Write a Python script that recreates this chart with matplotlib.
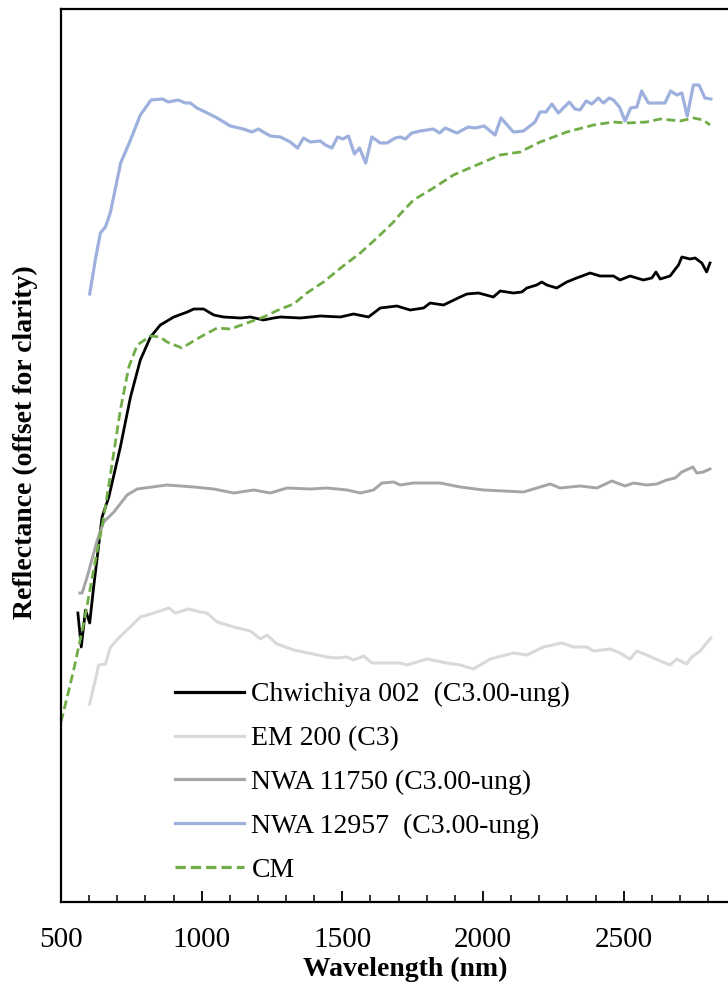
import matplotlib
matplotlib.use("Agg")
import matplotlib.pyplot as plt
from matplotlib.ticker import MultipleLocator, NullLocator

plt.rcParams['font.family'] = ['Liberation Serif', 'DejaVu Serif']

# ---------------- data (wavelength nm, reflectance offset for clarity) -------
chw_wl = [560, 572, 587, 602, 616, 646, 670, 711, 747, 782, 818, 853, 901, 949, 972,
          1007, 1043, 1078, 1138, 1173, 1220, 1256, 1280, 1351, 1422, 1493, 1540, 1593,
          1635, 1694, 1741, 1789, 1812, 1860, 1919, 1943, 1984, 2037, 2061, 2108, 2138,
          2156, 2191, 2209, 2227, 2262, 2298, 2333, 2381, 2416, 2464, 2487, 2523, 2570,
          2600, 2615, 2630, 2665, 2695, 2707, 2736, 2754, 2778, 2795, 2807]
chw_r = [2.89, 2.55, 2.92, 2.79, 3.15, 3.85, 4.05, 4.55, 5.05, 5.42, 5.65, 5.77, 5.85,
         5.90, 5.93, 5.93, 5.87, 5.85, 5.84, 5.85, 5.82, 5.84, 5.85, 5.84, 5.86, 5.85,
         5.88, 5.85, 5.94, 5.96, 5.92, 5.94, 5.99, 5.97, 6.05, 6.08, 6.09, 6.05, 6.11,
         6.09, 6.10, 6.14, 6.17, 6.20, 6.17, 6.14, 6.20, 6.24, 6.29, 6.26, 6.26, 6.22,
         6.26, 6.22, 6.24, 6.30, 6.23, 6.26, 6.37, 6.45, 6.43, 6.44, 6.39, 6.30, 6.39]

em_wl = [602, 616, 634, 658, 676, 705, 735, 782, 830, 883, 907, 954, 996, 1019, 1055,
         1114, 1173, 1209, 1232, 1268, 1327, 1362, 1446, 1481, 1517, 1540, 1576, 1605,
         1682, 1706, 1730, 1801, 1872, 1919, 1966, 2026, 2108, 2156, 2215, 2280, 2322,
         2369, 2393, 2452, 2487, 2523, 2547, 2582, 2630, 2665, 2689, 2724, 2742, 2772, 2810]
em_r = [1.98, 2.15, 2.37, 2.38, 2.55, 2.64, 2.72, 2.85, 2.89, 2.94, 2.89, 2.93, 2.90,
        2.89, 2.80, 2.75, 2.71, 2.63, 2.67, 2.58, 2.52, 2.50, 2.45, 2.44, 2.45, 2.42,
        2.46, 2.39, 2.39, 2.39, 2.37, 2.43, 2.39, 2.37, 2.33, 2.43, 2.49, 2.47, 2.55,
        2.59, 2.55, 2.55, 2.51, 2.53, 2.49, 2.43, 2.51, 2.47, 2.41, 2.37, 2.43, 2.38,
        2.45, 2.51, 2.64]

nwa117_wl = [567, 575, 593, 629, 652, 688, 735, 771, 877, 972, 1043, 1114, 1185, 1244,
             1304, 1386, 1446, 1517, 1564, 1611, 1641, 1682, 1706, 1753, 1848, 1919, 2002,
             2073, 2144, 2203, 2239, 2274, 2345, 2405, 2458, 2505, 2535, 2582, 2618, 2653,
             2683, 2707, 2746, 2760, 2783, 2807]
nwa117_r = [3.09, 3.09, 3.25, 3.62, 3.80, 3.90, 4.07, 4.13, 4.17, 4.15, 4.13, 4.09, 4.12,
            4.09, 4.14, 4.13, 4.14, 4.12, 4.09, 4.12, 4.19, 4.20, 4.17, 4.19, 4.19, 4.15,
            4.12, 4.11, 4.10, 4.15, 4.18, 4.14, 4.16, 4.14, 4.21, 4.16, 4.19, 4.17, 4.18,
            4.22, 4.24, 4.30, 4.35, 4.29, 4.30, 4.33]

nwa129_wl = [602, 622, 640, 658, 676, 712, 747, 782, 820, 860, 882, 917, 942, 960, 983,
             1013, 1055, 1102, 1148, 1179, 1202, 1219, 1244, 1280, 1315, 1341, 1362, 1386,
             1422, 1440, 1463, 1483, 1502, 1522, 1543, 1561, 1583, 1605, 1635, 1659, 1688,
             1706, 1724, 1747, 1777, 1824, 1846, 1866, 1907, 1948, 1972, 2004, 2043, 2064,
             2108, 2144, 2185, 2203, 2224, 2245, 2268, 2307, 2327, 2345, 2367, 2387, 2410,
             2428, 2449, 2464, 2485, 2505, 2525, 2547, 2564, 2588, 2647, 2667, 2689, 2707,
             2726, 2748, 2768, 2789, 2810]
nwa129_r = [6.08, 6.42, 6.69, 6.75, 6.90, 7.39, 7.62, 7.87, 8.02, 8.03, 8.00, 8.02, 7.99,
            7.99, 7.94, 7.90, 7.84, 7.76, 7.73, 7.70, 7.73, 7.70, 7.66, 7.65, 7.60, 7.54,
            7.64, 7.60, 7.61, 7.57, 7.54, 7.65, 7.63, 7.66, 7.48, 7.54, 7.39, 7.65, 7.59,
            7.59, 7.64, 7.65, 7.63, 7.69, 7.71, 7.73, 7.69, 7.74, 7.69, 7.75, 7.74, 7.76,
            7.67, 7.84, 7.70, 7.71, 7.80, 7.90, 7.90, 7.98, 7.89, 8.00, 7.93, 7.92, 8.01,
            7.98, 8.04, 7.99, 8.04, 8.02, 7.95, 7.81, 7.94, 7.95, 8.11, 7.99, 7.99, 8.11,
            8.07, 8.09, 7.86, 8.17, 8.17, 8.04, 8.03]

cm_wl = [500, 522, 545, 581, 616, 652, 682, 711, 741, 771, 818, 853, 877, 930, 995, 1055,
         1102, 1161, 1220, 1280, 1327, 1374, 1433, 1503, 1564, 1623, 1682, 1706, 1753,
         1824, 1895, 1978, 2061, 2132, 2203, 2298, 2393, 2464, 2511, 2582, 2630, 2701,
         2748, 2783, 2807]
cm_r = [1.80, 2.05, 2.32, 2.79, 3.32, 3.85, 4.39, 4.92, 5.35, 5.57, 5.66, 5.65, 5.60,
        5.54, 5.65, 5.74, 5.73, 5.79, 5.85, 5.93, 5.98, 6.09, 6.20, 6.36, 6.49, 6.64,
        6.80, 6.88, 7.02, 7.14, 7.27, 7.37, 7.47, 7.50, 7.60, 7.70, 7.77, 7.80, 7.79,
        7.80, 7.83, 7.81, 7.84, 7.82, 7.77]

labels = ["Chwichiya 002  (C3.00-ung)", "EM 200 (C3)", "NWA 11750 (C3.00-ung)",
          "NWA 12957  (C3.00-ung)", "CM"]
x_ticks = [500, 1000, 1500, 2000, 2500]

# ---------------- figure ---------------------------------------------------
W, H = 728, 988
fig = plt.figure(figsize=(W / 100, H / 100), dpi=100)
ax = fig.add_axes([61 / W, (H - 902) / H, (W - 61) / W, (902 - 9) / H])

ax.plot(chw_wl, chw_r, color="#000000", lw=2.0, label=labels[0])
ax.plot(em_wl, em_r, color="#d9d9d9", lw=2.2, label=labels[1])
ax.plot(nwa117_wl, nwa117_r, color="#a5a5a5", lw=2.1, label=labels[2])
ax.plot(nwa129_wl, nwa129_r, color="#9eb0dd", lw=2.3, label=labels[3])
ax.plot(cm_wl, cm_r, color="#70ad47", lw=2.0, linestyle=(0, (3.2, 1.6)), label=labels[4])

ax.set_xlim(500, 2871)
ax.set_ylim(0, 8.93)

ax.xaxis.set_major_locator(plt.FixedLocator(x_ticks))
ax.xaxis.set_minor_locator(MultipleLocator(100))
ax.yaxis.set_major_locator(NullLocator())
ax.tick_params(axis='x', which='major', direction='in', length=8, width=1.3,
               labelsize=21, pad=18, top=False)
ax.tick_params(axis='x', which='minor', direction='in', length=5, width=1.1, top=False)

for s in ['left', 'bottom', 'top']:
    ax.spines[s].set_linewidth(1.6)
    ax.spines[s].set_color('black')
ax.spines['right'].set_visible(False)

ax.set_xlabel("Wavelength (nm)", fontsize=20, fontweight='bold')
ax.xaxis.label.set_va('center')
ax.xaxis.set_label_coords((405 - 61) / (W - 61), (902 - 969) / (902 - 9))
ax.set_ylabel("Reflectance (offset for clarity)", fontsize=20, fontweight='bold')
ax.yaxis.label.set_va('center')
ax.yaxis.set_label_coords((25 - 61) / (W - 61), (902 - 442) / (902 - 9))

leg = ax.legend(loc='upper left', bbox_to_anchor=(175 / W, (H - 682) / H),
                bbox_transform=fig.transFigure, frameon=False, fontsize=20,
                handlelength=2.5, handletextpad=0.25, labelspacing=0.66,
                borderpad=0, borderaxespad=0)
for line in leg.get_lines():
    line.set_linewidth(2.3)

fig.savefig("out.png", dpi=100)
